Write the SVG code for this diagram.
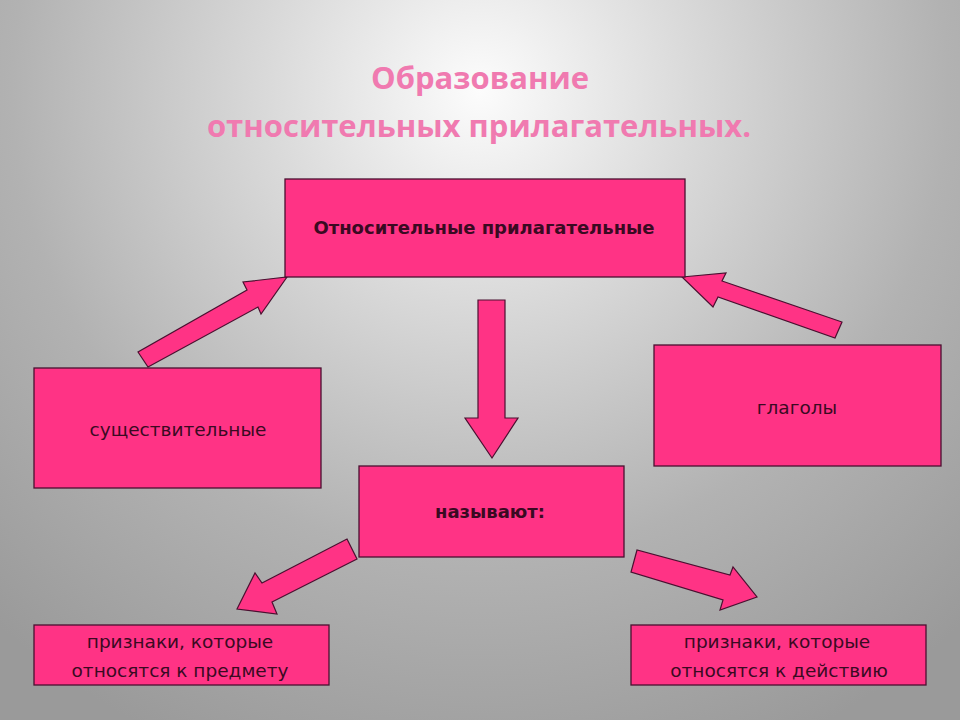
<svg xmlns="http://www.w3.org/2000/svg" width="960" height="720" viewBox="0 0 960 720">
<defs>
<radialGradient id="bg" cx="480" cy="90" r="720" gradientUnits="userSpaceOnUse">
<stop offset="0" stop-color="#fcfcfc"/>
<stop offset="0.3" stop-color="#d9d9d9"/>
<stop offset="0.65" stop-color="#b2b2b2"/>
<stop offset="1" stop-color="#9a9a9a"/>
</radialGradient>
<style>
.box{fill:#ff3385;stroke:#4a1030;stroke-width:1.3}
.arr{fill:#ff3385;stroke:#4a1030;stroke-width:1.2;stroke-linejoin:miter}
.t{font-family:"DejaVu Sans","Noto Sans",sans-serif;font-size:18.5px;fill:#3a0a22;text-anchor:middle}
.b{font-weight:bold;font-size:18px}
.title{font-family:"Open Sans","Noto Sans",sans-serif;font-weight:bold;font-size:31px;fill:#f07ab0;text-anchor:middle}
</style>
</defs>
<rect width="960" height="720" fill="url(#bg)"/>
<g id="title">
<text class="title" x="480" y="89">Образование</text>
<text class="title" x="479" y="137">относительных прилагательных.</text>
</g>
<g id="connectors">
<polygon class="arr" points="138,352 148,367 258,307 261,314 287,277 243,282 247,290"/>
<polygon class="arr" points="682,277 726,273 722,281 842,322 835,338 718,297 713,307"/>
<polygon class="arr" points="478,300 505,300 505,418 518,418 492,458 465,418 478,418"/>
<polygon class="arr" points="347,539 357,559 272,602 277,614 237,609 255,573 262,583"/>
<polygon class="arr" points="637,550 631,572 723,600 720,610 757,597 733,567 730,575"/>
</g>
<g id="node-top">
<rect class="box" x="285" y="179" width="400" height="98"/>
<text class="t b" x="484" y="234">Относительные прилагательные</text>
</g>
<g id="node-nouns">
<rect class="box" x="34" y="368" width="287" height="120"/>
<text class="t" x="178" y="436">существительные</text>
</g>
<g id="node-verbs">
<rect class="box" x="654" y="345" width="287" height="121"/>
<text class="t" x="797" y="414">глаголы</text>
</g>
<g id="node-name">
<rect class="box" x="359" y="466" width="265" height="91"/>
<text class="t b" x="490" y="518">называют:</text>
</g>
<g id="node-object">
<rect class="box" x="34" y="625" width="295" height="60"/>
<text class="t" x="180" y="648">признаки, которые</text>
<text class="t" x="180" y="677">относятся к предмету</text>
</g>
<g id="node-action">
<rect class="box" x="631" y="625" width="295" height="60"/>
<text class="t" x="777" y="648">признаки, которые</text>
<text class="t" x="779" y="677">относятся к действию</text>
</g>
</svg>
